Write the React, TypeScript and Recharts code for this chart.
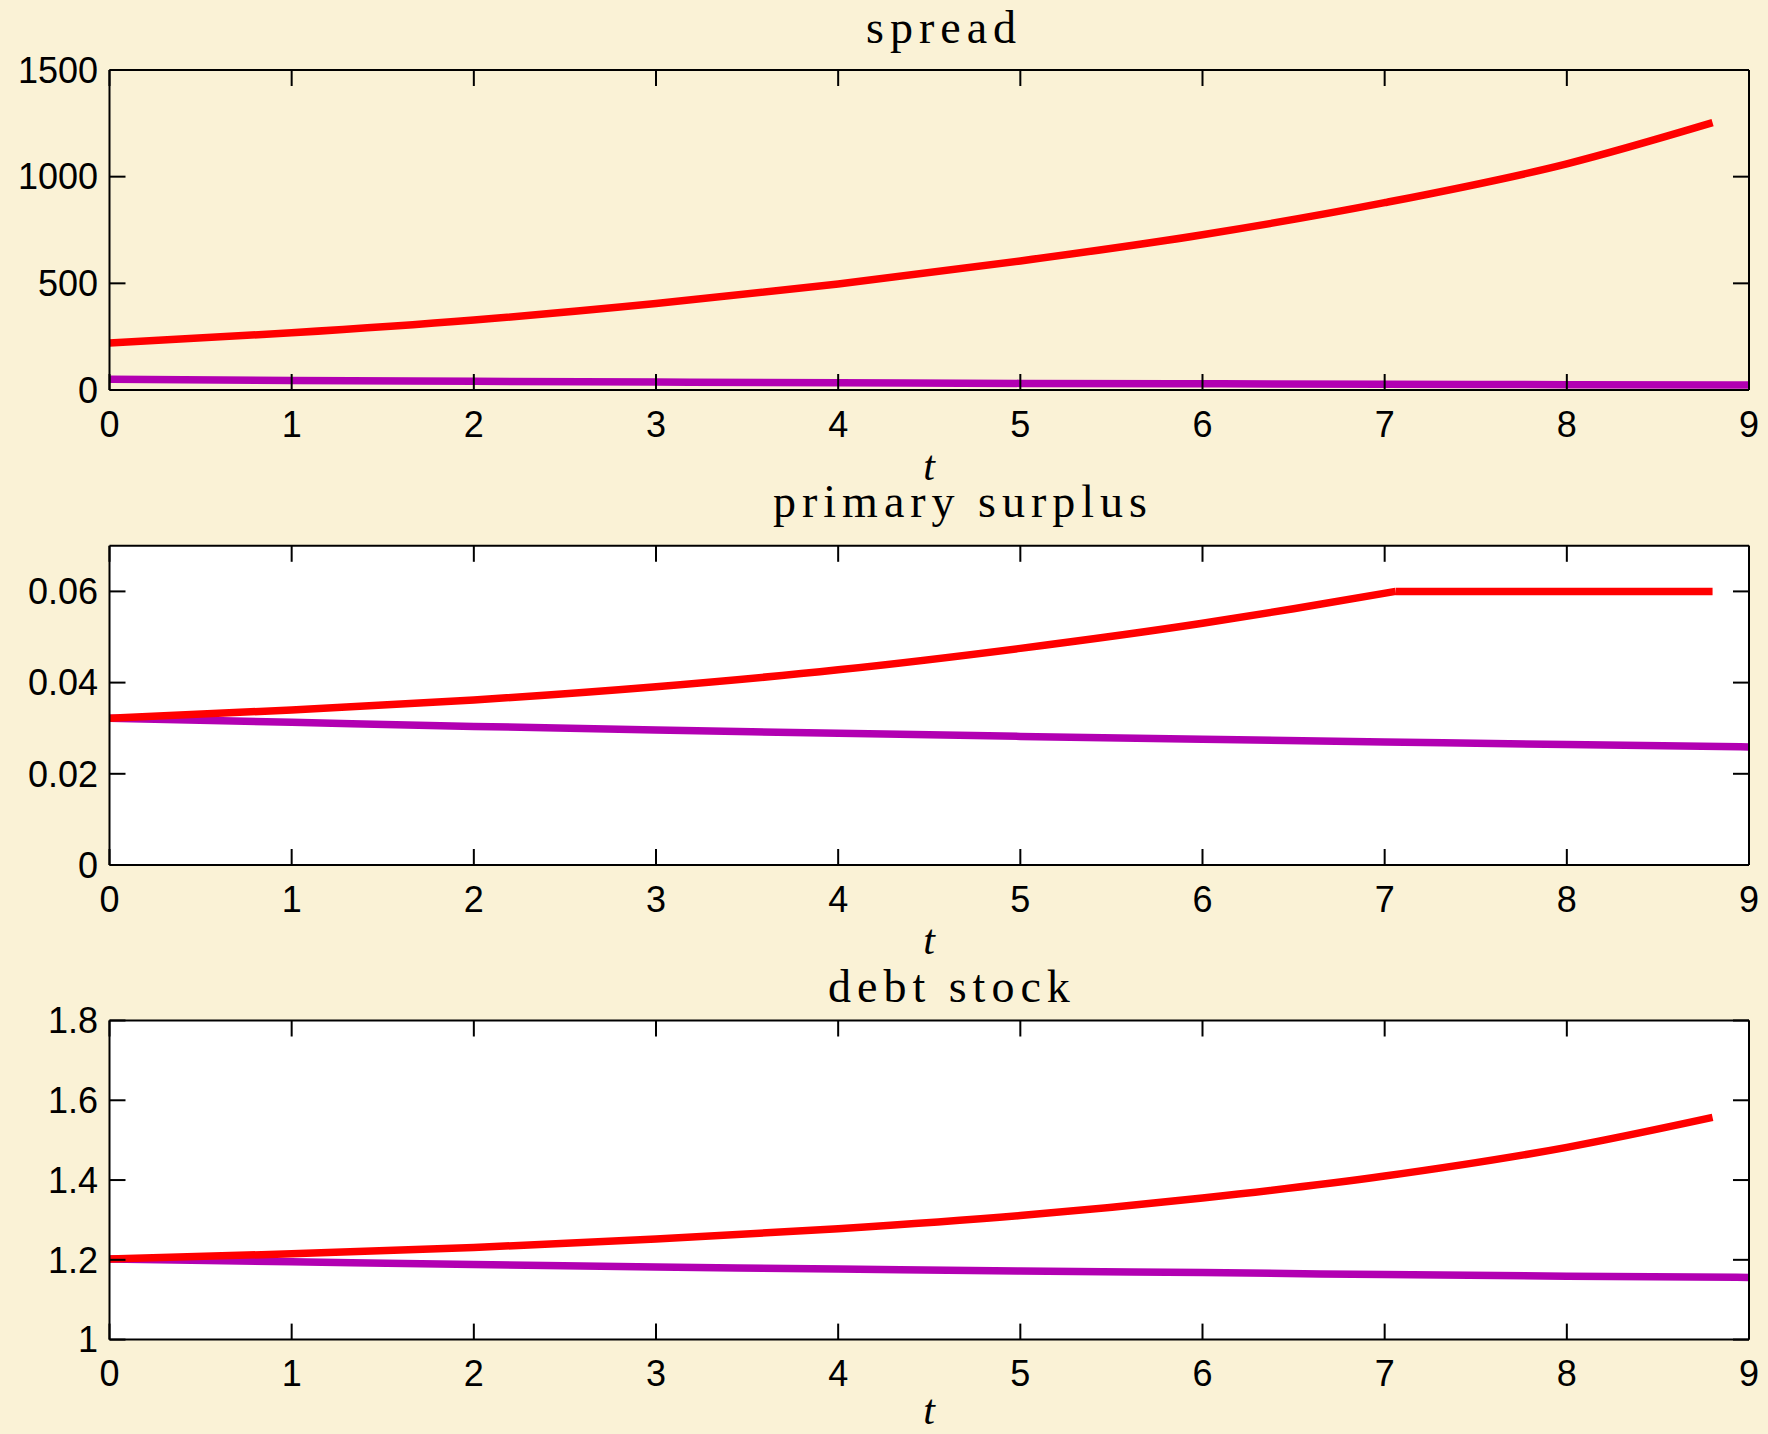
import React from 'react';
import { LineChart, Line, XAxis, YAxis, CartesianGrid } from 'recharts';

const W = 1768;
const H = 1434;
const BG = '#FAF2D6';
const RED = '#FF0000';
const PURPLE = '#B200B2';
const TICK_LEN = 16;
const SANS = '"Liberation Sans", Arial, Helvetica, sans-serif';
const SERIF = '"Liberation Serif", "Times New Roman", serif';

const xTicks = [0, 1, 2, 3, 4, 5, 6, 7, 8, 9];

// spread
const spreadRedT = [0, 1, 2, 3, 4, 5, 6, 7, 8, 8.8];
const spreadRed = [220, 268, 328, 405, 497, 605, 728, 878, 1060, 1253];
const spreadPurpleT = [0, 1, 2, 3, 4, 5, 6, 7, 8, 9];
const spreadPurple = [50, 45, 41, 37, 34, 31, 29, 27, 25, 23];
const spreadTicks = [0, 500, 1000, 1500];

// primary surplus
const surplusRedT = [0, 1, 2, 3, 4, 5, 6, 6.5, 7.06];
const surplusRed = [0.0322, 0.034, 0.0362, 0.0391, 0.0428, 0.0475, 0.053, 0.0562, 0.06];
const surplusCapT = [7.06, 8.8];
const surplusCap = [0.06, 0.06];
const surplusPurpleT = [0, 1, 2, 3, 4, 5, 6, 7, 8, 9];
const surplusPurple = [0.0322, 0.0313, 0.0304, 0.0296, 0.0289, 0.0282, 0.0276, 0.027, 0.0264, 0.0259];
const surplusTicks = [0, 0.02, 0.04, 0.06];

// debt stock
const debtRedT = [0, 1, 2, 3, 4, 5, 6, 7, 8, 8.8];
const debtRed = [1.202, 1.215, 1.231, 1.252, 1.278, 1.311, 1.355, 1.41, 1.482, 1.557];
const debtPurpleT = [0, 1, 2, 3, 4, 5, 6, 7, 8, 9];
const debtPurple = [1.202, 1.195, 1.188, 1.182, 1.177, 1.172, 1.168, 1.163, 1.159, 1.156];
const debtTicks = [1, 1.2, 1.4, 1.6, 1.8];

const zip = (ts: number[], vs: number[]) => ts.map((t, i) => ({ t, v: vs[i] }));

const BottomTick = (p: any) => (
  <g>
    <line x1={p.x} y1={p.y} x2={p.x} y2={p.y - TICK_LEN} stroke="#000" strokeWidth={2} />
    <text x={p.x} y={p.y + 46.5} textAnchor="middle" fontSize={36} fontFamily={SANS} fill="#000">
      {String(p.payload.value)}
    </text>
  </g>
);

const TopTick = (p: any) => (
  <line x1={p.x} y1={p.y} x2={p.x} y2={p.y + TICK_LEN} stroke="#000" strokeWidth={2} />
);

const LeftTick = (p: any) => (
  <g>
    <line x1={p.x} y1={p.y} x2={p.x + TICK_LEN} y2={p.y} stroke="#000" strokeWidth={2} />
    <text x={p.x - 11.5} y={p.y + 12.8} textAnchor="end" fontSize={36} fontFamily={SANS} fill="#000">
      {String(p.payload.value)}
    </text>
  </g>
);

const RightTick = (p: any) => (
  <line x1={p.x} y1={p.y} x2={p.x - TICK_LEN} y2={p.y} stroke="#000" strokeWidth={2} />
);

interface SeriesDef {
  data: { t: number; v: number }[];
  color: string;
  type: 'monotone' | 'linear';
}

interface PanelProps {
  top: number;
  marginTop: number;
  marginBottom: number;
  domain: [number, number];
  ticks: number[];
  fill?: string;
  series: SeriesDef[];
}

const axisLine = { stroke: '#000', strokeWidth: 2 };

// axes get 1px of room so that they are drawn; margins are cut by that pixel
const Panel: React.FC<PanelProps> = ({ top, marginTop, marginBottom, domain, ticks, fill, series }) => (
  <div style={{ position: 'absolute', left: 0, top, width: W, height: 478 }}>
    <LineChart
      width={W}
      height={478}
      margin={{ top: marginTop - 1, bottom: marginBottom - 1, left: 108.5, right: 18 }}
    >
      {fill && <CartesianGrid horizontal={false} vertical={false} fill={fill} stroke="none" />}
      <XAxis
        dataKey="t"
        type="number"
        domain={[0, 9]}
        ticks={xTicks}
        interval={0}
        allowDataOverflow
        height={1}
        tickSize={0}
        tickMargin={0}
        axisLine={axisLine}
        tickLine={false}
        tick={(p: any) => <BottomTick {...p} />}
      />
      <XAxis
        xAxisId="top"
        orientation="top"
        dataKey="t"
        type="number"
        domain={[0, 9]}
        ticks={xTicks}
        interval={0}
        allowDataOverflow
        height={1}
        tickSize={0}
        tickMargin={0}
        axisLine={axisLine}
        tickLine={false}
        tick={(p: any) => <TopTick {...p} />}
      />
      <YAxis
        type="number"
        domain={domain}
        ticks={ticks}
        interval={0}
        allowDataOverflow
        width={1}
        tickSize={0}
        tickMargin={0}
        axisLine={axisLine}
        tickLine={false}
        tick={(p: any) => <LeftTick {...p} />}
      />
      <YAxis
        yAxisId="right"
        orientation="right"
        type="number"
        domain={domain}
        ticks={ticks}
        interval={0}
        allowDataOverflow
        width={1}
        tickSize={0}
        tickMargin={0}
        axisLine={axisLine}
        tickLine={false}
        tick={(p: any) => <RightTick {...p} />}
      />
      {series.map((s, i) => (
        <Line
          key={i}
          data={s.data}
          dataKey="v"
          type={s.type}
          stroke={s.color}
          strokeWidth={7.5}
          dot={false}
          activeDot={false}
          isAnimationActive={false}
        />
      ))}
    </LineChart>
  </div>
);

const titles = [
  { text: 'spread', x: 866, y: 43 },
  { text: 'primary surplus', x: 773, y: 517 },
  { text: 'debt stock', x: 828, y: 1002 },
];
const tLabelY = [480, 954, 1424];

export default function App() {
  return (
    <div style={{ position: 'absolute', left: 0, top: 0, width: W, height: H, background: BG, overflow: 'hidden' }}>
      <Panel
        top={0}
        marginTop={70}
        marginBottom={88}
        domain={[0, 1500]}
        ticks={spreadTicks}
        series={[
          { data: zip(spreadPurpleT, spreadPurple), color: PURPLE, type: 'monotone' },
          { data: zip(spreadRedT, spreadRed), color: RED, type: 'monotone' },
        ]}
      />
      <Panel
        top={478}
        marginTop={67.8}
        marginBottom={91}
        domain={[0, 0.07]}
        ticks={surplusTicks}
        fill="#fff"
        series={[
          { data: zip(surplusPurpleT, surplusPurple), color: PURPLE, type: 'monotone' },
          { data: zip(surplusRedT, surplusRed), color: RED, type: 'monotone' },
          { data: zip(surplusCapT, surplusCap), color: RED, type: 'linear' },
        ]}
      />
      <Panel
        top={956}
        marginTop={64.5}
        marginBottom={94.4}
        domain={[1, 1.8]}
        ticks={debtTicks}
        fill="#fff"
        series={[
          { data: zip(debtPurpleT, debtPurple), color: PURPLE, type: 'monotone' },
          { data: zip(debtRedT, debtRed), color: RED, type: 'monotone' },
        ]}
      />
      <svg width={W} height={H} style={{ position: 'absolute', left: 0, top: 0, pointerEvents: 'none' }}>
        {titles.map((t) => (
          <text key={t.text} x={t.x} y={t.y} fontSize={46} fontFamily={SERIF} letterSpacing={6} fill="#000">
            {t.text}
          </text>
        ))}
        {tLabelY.map((y, i) => (
          <text key={i} x={929} y={y} textAnchor="middle" fontSize={42} fontStyle="italic" fontFamily={SERIF} fill="#000">
            t
          </text>
        ))}
      </svg>
    </div>
  );
}
